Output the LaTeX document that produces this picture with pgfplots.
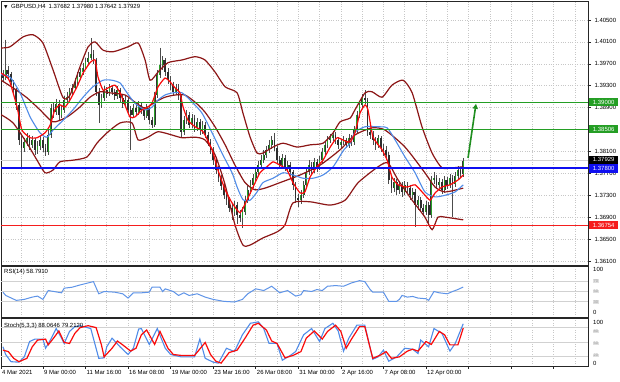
\documentclass[border=0pt]{standalone}
\usepackage{pgfplots}
\pgfplotsset{compat=1.18}
\usepackage{pgfplotstable}
\usepackage{fontspec}
\setmainfont{Liberation Sans}
\newfontfamily\djv{DejaVu Sans}
\usetikzlibrary{arrows.meta}

\definecolor{bbred}{RGB}{140,22,22}
\definecolor{maBlue}{RGB}{80,140,232}
\definecolor{maRed}{RGB}{250,10,10}
\definecolor{lvlGreen}{RGB}{36,158,36}
\definecolor{lvlBlue}{RGB}{15,15,240}
\definecolor{lvlRed}{RGB}{245,30,30}
\definecolor{bull}{RGB}{40,160,40}
\definecolor{bear}{RGB}{45,45,45}
\definecolor{rsiBlue}{RGB}{95,148,232}
\newcommand\sm{\fontsize{6}{7}\selectfont}
\newcommand\tn{\fontsize{4}{4.5}\selectfont}

\pgfplotstableread{
i O H L C
0 1.3950 1.3959 1.3937 1.3944
1 1.3944 1.4014 1.3940 1.3959
2 1.3959 1.3966 1.3944 1.3951
3 1.3951 1.3955 1.3931 1.3937
4 1.3937 1.3940 1.3915 1.3922
5 1.3922 1.3926 1.3886 1.3895
6 1.3895 1.3900 1.3822 1.3831
7 1.3831 1.3838 1.3778 1.3816
8 1.3816 1.3835 1.3809 1.3827
9 1.3827 1.3844 1.3820 1.3835
10 1.3835 1.3840 1.3813 1.3822
11 1.3822 1.3838 1.3816 1.3831
12 1.3831 1.3835 1.3804 1.3813
13 1.3813 1.3829 1.3805 1.3820
14 1.3820 1.3838 1.3813 1.3831
15 1.3831 1.3836 1.3809 1.3816
16 1.3816 1.3824 1.3802 1.3809
17 1.3809 1.3849 1.3804 1.3840
18 1.3840 1.3897 1.3835 1.3889
19 1.3889 1.3900 1.3871 1.3882
20 1.3882 1.3906 1.3877 1.3897
21 1.3897 1.3904 1.3867 1.3877
22 1.3877 1.3895 1.3871 1.3886
23 1.3886 1.3911 1.3880 1.3904
24 1.3904 1.3919 1.3897 1.3909
25 1.3909 1.3926 1.3904 1.3919
26 1.3919 1.3933 1.3911 1.3926
27 1.3926 1.3944 1.3922 1.3937
28 1.3937 1.3955 1.3931 1.3946
29 1.3946 1.3962 1.3940 1.3955
30 1.3955 1.3972 1.3950 1.3962
31 1.3962 1.3981 1.3959 1.3973
32 1.3973 1.3992 1.3968 1.3981
33 1.3981 1.4017 1.3977 1.3988
34 1.3988 1.3995 1.3970 1.3977
35 1.3977 1.3981 1.3911 1.3919
36 1.3919 1.3926 1.3862 1.3895
37 1.3895 1.3915 1.3889 1.3908
38 1.3908 1.3930 1.3902 1.3922
39 1.3922 1.3928 1.3908 1.3915
40 1.3915 1.3933 1.3911 1.3926
41 1.3926 1.3931 1.3913 1.3919
42 1.3919 1.3924 1.3904 1.3911
43 1.3911 1.3930 1.3906 1.3922
44 1.3922 1.3926 1.3900 1.3908
45 1.3908 1.3913 1.3889 1.3897
46 1.3897 1.3911 1.3891 1.3904
47 1.3904 1.3908 1.3880 1.3886
48 1.3886 1.3893 1.3813 1.3877
49 1.3877 1.3897 1.3871 1.3889
50 1.3889 1.3895 1.3875 1.3882
51 1.3882 1.3902 1.3877 1.3895
52 1.3895 1.3900 1.3878 1.3886
53 1.3886 1.3891 1.3867 1.3875
54 1.3875 1.3897 1.3871 1.3889
55 1.3889 1.3893 1.3860 1.3867
56 1.3867 1.3873 1.3853 1.3858
57 1.3858 1.3919 1.3855 1.3913
58 1.3913 1.3959 1.3908 1.3950
59 1.3950 1.3999 1.3944 1.3968
60 1.3968 1.3984 1.3959 1.3977
61 1.3977 1.3981 1.3948 1.3955
62 1.3955 1.3962 1.3933 1.3940
63 1.3940 1.3948 1.3922 1.3931
64 1.3931 1.3937 1.3911 1.3919
65 1.3919 1.3933 1.3913 1.3926
66 1.3926 1.3933 1.3904 1.3911
67 1.3911 1.3915 1.3836 1.3846
68 1.3846 1.3875 1.3840 1.3867
69 1.3867 1.3886 1.3860 1.3877
70 1.3877 1.3882 1.3853 1.3858
71 1.3858 1.3878 1.3853 1.3871
72 1.3871 1.3877 1.3846 1.3853
73 1.3853 1.3871 1.3847 1.3864
74 1.3864 1.3869 1.3840 1.3849
75 1.3849 1.3866 1.3842 1.3858
76 1.3858 1.3864 1.3835 1.3840
77 1.3840 1.3846 1.3820 1.3827
78 1.3827 1.3833 1.3805 1.3813
79 1.3813 1.3818 1.3785 1.3794
80 1.3794 1.3800 1.3769 1.3776
81 1.3776 1.3783 1.3754 1.3761
82 1.3761 1.3767 1.3740 1.3747
83 1.3747 1.3754 1.3723 1.3730
84 1.3730 1.3738 1.3712 1.3721
85 1.3721 1.3727 1.3699 1.3707
86 1.3707 1.3716 1.3685 1.3699
87 1.3699 1.3719 1.3692 1.3712
88 1.3712 1.3718 1.3677 1.3694
89 1.3694 1.3703 1.3681 1.3688
90 1.3688 1.3709 1.3670 1.3699
91 1.3699 1.3729 1.3694 1.3721
92 1.3721 1.3747 1.3716 1.3740
93 1.3740 1.3758 1.3732 1.3749
94 1.3749 1.3769 1.3743 1.3761
95 1.3761 1.3780 1.3756 1.3772
96 1.3772 1.3793 1.3767 1.3785
97 1.3785 1.3804 1.3780 1.3794
98 1.3794 1.3813 1.3789 1.3804
99 1.3804 1.3820 1.3798 1.3813
100 1.3813 1.3831 1.3807 1.3822
101 1.3822 1.3838 1.3814 1.3831
102 1.3831 1.3844 1.3811 1.3816
103 1.3816 1.3820 1.3789 1.3794
104 1.3794 1.3802 1.3778 1.3785
105 1.3785 1.3805 1.3780 1.3798
106 1.3798 1.3804 1.3774 1.3780
107 1.3780 1.3793 1.3772 1.3785
108 1.3785 1.3791 1.3765 1.3772
109 1.3772 1.3776 1.3740 1.3749
110 1.3749 1.3754 1.3716 1.3725
111 1.3725 1.3732 1.3709 1.3721
112 1.3721 1.3740 1.3714 1.3730
113 1.3730 1.3756 1.3725 1.3749
114 1.3749 1.3780 1.3743 1.3772
115 1.3772 1.3794 1.3767 1.3785
116 1.3785 1.3791 1.3769 1.3776
117 1.3776 1.3798 1.3771 1.3791
118 1.3791 1.3796 1.3772 1.3780
119 1.3780 1.3802 1.3776 1.3794
120 1.3794 1.3816 1.3789 1.3809
121 1.3809 1.3829 1.3804 1.3822
122 1.3822 1.3838 1.3816 1.3831
123 1.3831 1.3842 1.3825 1.3835
124 1.3835 1.3847 1.3829 1.3840
125 1.3840 1.3846 1.3824 1.3831
126 1.3831 1.3836 1.3814 1.3822
127 1.3822 1.3833 1.3816 1.3827
128 1.3827 1.3838 1.3822 1.3831
129 1.3831 1.3835 1.3816 1.3822
130 1.3822 1.3842 1.3816 1.3835
131 1.3835 1.3840 1.3820 1.3827
132 1.3827 1.3857 1.3822 1.3849
133 1.3849 1.3884 1.3844 1.3877
134 1.3877 1.3902 1.3871 1.3895
135 1.3895 1.3915 1.3889 1.3908
136 1.3908 1.3922 1.3897 1.3904
137 1.3904 1.3908 1.3838 1.3846
138 1.3846 1.3853 1.3833 1.3840
139 1.3840 1.3847 1.3822 1.3831
140 1.3831 1.3836 1.3813 1.3822
141 1.3822 1.3840 1.3816 1.3835
142 1.3835 1.3838 1.3809 1.3816
143 1.3816 1.3824 1.3802 1.3813
144 1.3813 1.3820 1.3794 1.3804
145 1.3804 1.3809 1.3751 1.3758
146 1.3758 1.3765 1.3734 1.3743
147 1.3743 1.3761 1.3736 1.3754
148 1.3754 1.3760 1.3730 1.3740
149 1.3740 1.3756 1.3732 1.3749
150 1.3749 1.3754 1.3727 1.3736
151 1.3736 1.3756 1.3730 1.3749
152 1.3749 1.3754 1.3734 1.3743
153 1.3743 1.3749 1.3721 1.3730
154 1.3730 1.3743 1.3723 1.3736
155 1.3736 1.3742 1.3672 1.3712
156 1.3712 1.3729 1.3703 1.3721
157 1.3721 1.3727 1.3699 1.3707
158 1.3707 1.3714 1.3692 1.3699
159 1.3699 1.3719 1.3694 1.3712
160 1.3712 1.3718 1.3679 1.3694
161 1.3694 1.3765 1.3688 1.3758
162 1.3758 1.3772 1.3751 1.3761
163 1.3761 1.3767 1.3742 1.3749
164 1.3749 1.3761 1.3743 1.3754
165 1.3754 1.3760 1.3732 1.3740
166 1.3740 1.3765 1.3734 1.3758
167 1.3758 1.3763 1.3742 1.3749
168 1.3749 1.3769 1.3743 1.3761
169 1.3761 1.3767 1.3690 1.3751
170 1.3751 1.3772 1.3745 1.3765
171 1.3765 1.3783 1.3760 1.3776
172 1.3776 1.3781 1.3763 1.3769
173 1.37682 1.37980 1.37642 1.37929
}\candles

\pgfplotstableread{
i p
-0.7 1.3953
1.5 1.3946
2.6 1.3937
5.3 1.3891
7.1 1.3849
10.2 1.3835
12.8 1.3835
15.8 1.3844
17.7 1.3858
19.5 1.3886
21.4 1.3895
23.3 1.3891
25.2 1.3904
27.8 1.3928
30.1 1.3953
32.7 1.3972
34.6 1.3977
35.7 1.3946
37.6 1.3922
39.5 1.3926
42.1 1.3931
44.0 1.3917
44.7 1.3909
47.7 1.3873
49.6 1.3873
52.3 1.3886
54.5 1.3891
56.0 1.3898
58.3 1.3928
60.9 1.3944
62.8 1.3937
64.7 1.3926
66.5 1.3917
67.7 1.3891
69.5 1.3867
72.2 1.3855
75.2 1.3846
78.6 1.3813
80.8 1.3776
83.5 1.3740
86.1 1.3716
89.1 1.3698
91.7 1.3721
94.0 1.3745
96.6 1.3771
99.2 1.3782
101.5 1.3791
104.1 1.3785
106.8 1.3776
109.0 1.3753
111.7 1.3734
113.5 1.3736
115.4 1.3763
118.0 1.3782
120.3 1.3794
123.0 1.3818
125.6 1.3835
128.6 1.3829
130.5 1.3827
132.3 1.3844
134.2 1.3880
136.1 1.3895
137.2 1.3886
139.1 1.3836
142.5 1.3813
144.4 1.3794
146.2 1.3763
148.5 1.3749
151.9 1.3745
154.9 1.3749
157.9 1.3734
160.5 1.3721
162.4 1.3734
165.0 1.3745
168.0 1.3749
171.1 1.3758
173.0 1.3767
}\maR

\pgfplotstableread{
i p
-0.7 1.3950
2.6 1.3946
6.4 1.3917
10.2 1.3873
13.9 1.3844
16.5 1.3836
18.8 1.3849
22.6 1.3867
26.3 1.3886
30.1 1.3909
33.8 1.3928
37.6 1.3940
41.0 1.3940
44.0 1.3935
45.9 1.3922
49.6 1.3898
53.4 1.3886
56.0 1.3891
58.3 1.3904
60.9 1.3913
63.9 1.3917
67.3 1.3917
71.1 1.3900
74.8 1.3880
78.6 1.3844
82.3 1.3807
86.1 1.3771
88.0 1.3745
90.2 1.3722
92.9 1.3721
95.5 1.3736
97.7 1.3753
101.5 1.3761
105.3 1.3771
109.0 1.3767
112.8 1.3761
116.5 1.3761
120.3 1.3767
124.1 1.3782
128.0 1.3812
130.5 1.3825
132.3 1.3845
136.1 1.3855
141.0 1.3855
144.4 1.3853
147.4 1.3831
151.1 1.3800
154.9 1.3771
158.6 1.3736
162.4 1.3727
166.2 1.3730
169.9 1.3736
173.0 1.3749
}\maB

\pgfplotstableread{
i p
-0.7 1.3999
2.6 1.4001
7.5 1.4019
11.3 1.4023
15.0 1.4008
18.8 1.3959
22.6 1.3908
25.2 1.3913
28.9 1.3964
32.0 1.4001
34.6 1.4010
37.6 1.3995
41.4 1.3992
47.0 1.4001
50.8 1.4008
53.4 1.3977
55.3 1.3940
58.3 1.3955
62.0 1.3972
67.3 1.3977
72.2 1.3983
75.9 1.3977
79.7 1.3955
83.5 1.3928
88.0 1.3917
90.2 1.3880
92.9 1.3836
95.5 1.3807
97.7 1.3807
101.5 1.3818
105.3 1.3825
110.5 1.3818
115.4 1.3822
120.3 1.3825
124.1 1.3844
126.7 1.3864
130.5 1.3871
132.3 1.3886
136.1 1.3917
138.7 1.3919
142.5 1.3909
146.2 1.3931
150.4 1.3940
153.8 1.3917
157.5 1.3855
161.3 1.3807
165.0 1.3780
168.8 1.3780
173.0 1.3782
}\bbU

\pgfplotstableread{
i p
-0.7 1.3940
3.8 1.3926
9.0 1.3908
13.9 1.3886
18.8 1.3864
24.1 1.3873
28.9 1.3891
32.7 1.3909
36.5 1.3919
40.2 1.3917
45.9 1.3913
49.6 1.3900
53.4 1.3889
57.1 1.3900
60.9 1.3909
64.7 1.3913
68.4 1.3913
72.2 1.3900
75.9 1.3882
79.7 1.3855
83.5 1.3822
87.2 1.3785
91.0 1.3753
94.7 1.3740
98.5 1.3743
104.1 1.3753
111.7 1.3767
119.2 1.3785
126.7 1.3813
132.3 1.3840
138.7 1.3853
143.6 1.3849
151.1 1.3818
158.6 1.3771
162.4 1.3745
166.2 1.3736
173.0 1.3743
}\bbM

\pgfplotstableread{
i p
-0.7 1.3877
3.8 1.3862
9.0 1.3825
12.8 1.3794
15.8 1.3771
18.8 1.3776
21.4 1.3791
26.3 1.3794
31.6 1.3800
35.3 1.3825
39.1 1.3844
44.0 1.3862
48.5 1.3862
50.8 1.3831
54.5 1.3836
58.3 1.3846
63.5 1.3840
67.3 1.3835
72.2 1.3836
75.9 1.3831
79.7 1.3804
83.5 1.3749
87.2 1.3676
90.2 1.3639
92.9 1.3639
97.7 1.3652
103.0 1.3663
106.0 1.3676
109.0 1.3716
115.4 1.3718
123.0 1.3712
128.6 1.3721
133.5 1.3753
141.0 1.3782
144.7 1.3789
148.5 1.3758
153.8 1.3721
158.6 1.3690
161.3 1.3667
163.5 1.3690
166.2 1.3690
173.0 1.3685
}\bbL

\pgfplotstableread{
i v
0 48.7
1 42.3
5 32.6
8 34.5
11 39.0
13 41.0
15 34.5
17 51.9
22 47.4
23 56.5
26 58.4
29 62.9
32 66.8
34 69.4
36 45.5
38 50.0
42 48.7
45 45.5
47 37.1
49 47.4
52 47.4
55 48.7
56 58.4
59 58.4
60 50.0
61 55.2
64 50.0
66 42.3
68 47.4
70 42.3
73 45.5
76 39.0
79 34.5
83 30.7
87 29.4
90 34.5
92 45.5
95 55.2
98 51.9
101 60.3
103 51.9
104 47.4
107 51.9
110 41.0
112 43.6
113 51.9
116 50.0
118 53.9
120 51.9
122 60.3
125 61.6
128 60.3
131 66.8
134 71.3
136 69.4
138 53.9
139 48.7
143 48.7
145 30.7
148 30.7
149 34.5
150 42.3
152 39.0
154 40.3
156 37.1
159 35.8
160 32.6
162 50.0
164 47.4
167 45.5
169 50.0
171 53.9
173 58.8
}\rsi

\pgfplotstableread{
i v
0 40
1 24
3 9
6 8
8 19
10 51
12 56
15 56
16 37
18 56
20 78
22 58
23 47
25 72
27 82
29 84
33 78
36 16
38 17
39 40
41 58
44 40
47 24
49 37
51 77
52 78
55 45
58 78
61 37
63 24
67 19
72 19
74 56
76 16
79 8
81 6
84 37
87 30
90 65
93 89
96 92
98 78
100 47
103 47
105 12
108 22
110 30
113 65
116 78
119 51
121 78
124 89
126 73
128 31
130 58
133 85
136 85
139 14
141 19
143 33
145 10
148 19
151 37
154 35
156 26
157 54
160 40
162 78
165 68
168 31
170 47
173 88
}\stM

\pgfplotstableread{
i v
0 33
2 30
4 16
6 9
9 16
11 40
13 54
16 56
17 44
19 58
21 73
23 49
25 47
27 68
29 80
32 84
35 80
37 44
38 19
41 37
43 52
45 44
48 31
50 37
52 65
54 75
57 45
59 72
62 37
64 24
67 22
72 22
76 49
78 24
80 10
82 6
85 28
88 33
91 58
94 85
96 89
99 75
101 52
103 47
106 17
109 22
112 30
114 58
117 73
120 56
122 72
125 85
127 72
129 37
131 56
134 82
136 82
139 16
142 23
144 30
146 16
149 19
152 31
154 35
156 31
159 51
161 45
164 72
166 65
168 44
171 44
173 79
}\stS

\pgfplotsset{
  panel/.style={
    scale only axis, width=587bp, xmin=-0.75, xmax=219.9,
    axis line style={black!85, line width=0.8bp},
    xtick={15,31,47,63,79,95,111,127,143,159,175,191,207},
    minor xtick={7,23,39,55,71,87,103,119,135,151,167,183,199,215},
    xmajorgrids, xminorgrids,
    major grid style={dotted, black!22, line width=0.5bp},
    minor grid style={dotted, black!22, line width=0.5bp},
    tick style={black!85, line width=0.5bp},
    major tick length=3bp, minor tick length=0pt, tick align=outside,
    ticklabel style={font=\sm, text=black},
    xtick pos=bottom, ytick pos=right, yticklabel pos=right,
    clip mode=individual,
  },
}
\tikzset{
  lvl/.style={fill=#1, text=white, anchor=west, inner sep=0pt, minimum width=29bp, minimum height=8.5bp, font=\sm, xshift=1bp},
  gbox/.style={fill=black!12, text=black!40, anchor=west, inner sep=0.5bp, font=\tn, xshift=5bp},
}

\begin{document}
\begin{tikzpicture}
\useasboundingbox (0,0) rectangle (620bp,382bp);
\fill[white] (0,0) rectangle (620bp,382bp);

% ---------------- main price panel ----------------
\begin{axis}[panel, at={(1bp,117bp)}, anchor=south west, height=264bp,
  ymin=1.36026, ymax=1.40847,
  ytick={1.361,1.365,1.369,1.373,1.377,1.381,1.385,1.389,1.393,1.397,1.401,1.405},
  yticklabels={1.36100,1.36500,1.36900,1.37300,1.37700,1.38100,,1.38900,1.39300,1.39700,1.40100,1.40500},
  ymajorgrids, xticklabels={}, xtick style={draw=none}]

\addplot[black!18, line width=0.6bp, forget plot] coordinates {(-0.75,1.37929)(219.9,1.37929)};

% wicks
\addplot[draw=none, mark=none, forget plot,
  error bars/.cd, y dir=minus, y explicit, error mark=none,
  error bar style={draw=black!70, solid, line width=0.5bp}]
  table[x=i, y=H, y error minus expr=\thisrow{H}-\thisrow{L}] {\candles};
% bull bodies
\addplot[draw=none, mark=none, forget plot,
  restrict expr to domain={\thisrow{C}-\thisrow{O}}{0:1},
  error bars/.cd, y dir=minus, y explicit, error mark=none,
  error bar style={draw=black!80, solid, line width=1.8bp}]
  table[x=i, y=C, y error minus expr=\thisrow{C}-\thisrow{O}] {\candles};
\addplot[draw=none, mark=none, forget plot,
  restrict expr to domain={\thisrow{C}-\thisrow{O}}{0:1},
  error bars/.cd, y dir=minus, y explicit, error mark=none,
  error bar style={draw=bull, solid, line width=1.0bp}]
  table[x=i, y=C, y error minus expr=\thisrow{C}-\thisrow{O}] {\candles};
% bear bodies
\addplot[draw=none, mark=none, forget plot,
  restrict expr to domain={\thisrow{O}-\thisrow{C}}{0:1},
  error bars/.cd, y dir=minus, y explicit, error mark=none,
  error bar style={draw=bear, solid, line width=1.7bp}]
  table[x=i, y=O, y error minus expr=\thisrow{O}-\thisrow{C}] {\candles};

% indicators
\addplot[bbred, line width=1.2bp, smooth, tension=0.4] table[x=i,y=p] {\bbU};
\addplot[bbred, line width=1.2bp, smooth, tension=0.4] table[x=i,y=p] {\bbM};
\addplot[bbred, line width=1.2bp, smooth, tension=0.4] table[x=i,y=p] {\bbL};
\addplot[maBlue, line width=1.1bp, smooth, tension=0.4] table[x=i,y=p] {\maB};
\addplot[maRed, line width=1.2bp, smooth, tension=0.3] table[x=i,y=p] {\maR};

% levels
\addplot[lvlGreen, line width=1.1bp] coordinates {(-0.75,1.39)(219.9,1.39)};
\addplot[lvlGreen, line width=1.1bp] coordinates {(-0.75,1.38506)(219.9,1.38506)};
\addplot[lvlBlue, line width=1.8bp] coordinates {(-0.75,1.378)(219.9,1.378)};
\addplot[lvlRed, line width=1.1bp] coordinates {(-0.75,1.36754)(219.9,1.36754)};

% arrow
\addplot[lvlGreen!90!black, line width=1.6bp, -{Triangle[length=5bp,width=5bp]}] coordinates {(174.8,1.3798)(177.8,1.3897)};

\node[lvl=lvlGreen] at (axis cs:219.9,1.39) {1.39000};
\node[lvl=lvlGreen] at (axis cs:219.9,1.38506) {1.38506};
\node[lvl=black] at (axis cs:219.9,1.37945) {1.37929};
\node[lvl=lvlBlue] at (axis cs:219.9,1.37790) {1.37800};
\node[lvl=lvlRed] at (axis cs:219.9,1.36754) {1.36754};

\node[anchor=north west, inner sep=0pt, font=\sm] at (rel axis cs:0,1) [xshift=3bp, yshift=-3.5bp]
  {{\djv\fontsize{4.5}{5}\selectfont ▼}\hspace{3.5bp}GBPUSD,H4\hspace{3bp}1.37682 1.37980 1.37642 1.37929};
\end{axis}

% ---------------- RSI panel ----------------
\begin{axis}[panel, at={(1bp,65bp)}, anchor=south west, height=51bp,
  ymin=0, ymax=100, ytick=\empty, xticklabels={}, xtick style={draw=none}]
\addplot[black!18, line width=0.7bp] coordinates {(-0.75,70)(219.9,70)};
\addplot[black!18, line width=0.7bp] coordinates {(-0.75,50)(219.9,50)};
\addplot[black!18, line width=0.7bp] coordinates {(-0.75,30)(219.9,30)};
\addplot[rsiBlue, line width=1bp] table[x=i,y=v] {\rsi};
\node[anchor=north west, inner sep=0pt, font=\sm] at (rel axis cs:0,1) [xshift=3bp, yshift=-2.5bp] {RSI(14) 58.7910};
\node[anchor=west, inner sep=0pt, font=\sm] at (rel axis cs:1,0.93) [xshift=5bp] {100};
\node[anchor=west, inner sep=0pt, font=\sm] at (rel axis cs:1,0.09) [xshift=5bp] {0};
\node[gbox] at (rel axis cs:1,0.70) {70};
\node[gbox] at (rel axis cs:1,0.50) {50};
\node[gbox] at (rel axis cs:1,0.30) {30};
\end{axis}

% ---------------- Stochastic panel ----------------
\begin{axis}[panel, at={(1bp,16bp)}, anchor=south west, height=48bp,
  ymin=0, ymax=100, ytick=\empty,
  xticklabels={9 Mar 00:00,11 Mar 16:00,16 Mar 08:00,19 Mar 00:00,23 Mar 16:00,26 Mar 08:00,31 Mar 00:00,2 Apr 16:00,7 Apr 08:00,12 Apr 00:00,,,},
  xticklabel style={anchor=north west, inner sep=1bp},
  extra x ticks={-0.75}, extra x tick labels={4 Mar 2021},
  extra x tick style={grid=none, xticklabel style={anchor=north west}}]
\addplot[black!18, line width=0.7bp] coordinates {(-0.75,80)(219.9,80)};
\addplot[black!18, line width=0.7bp] coordinates {(-0.75,50)(219.9,50)};
\addplot[black!18, line width=0.7bp] coordinates {(-0.75,20)(219.9,20)};
\addplot[maBlue, line width=1.1bp] table[x=i,y=v] {\stM};
\addplot[maRed, line width=1.2bp] table[x=i,y=v] {\stS};
\node[anchor=north west, inner sep=0pt, font=\sm] at (rel axis cs:0,1) [xshift=3bp, yshift=-5bp] {Stoch(5,3,3) 88.0646 79.2120};
\node[anchor=west, inner sep=0pt, font=\sm] at (rel axis cs:1,0.90) [xshift=5bp] {100};
\node[anchor=west, inner sep=0pt, font=\sm] at (rel axis cs:1,0.06) [xshift=5bp] {0};
\node[gbox] at (rel axis cs:1,0.72) {80};
\node[gbox] at (rel axis cs:1,0.47) {50};
\node[gbox] at (rel axis cs:1,0.22) {20};
\end{axis}
\end{tikzpicture}
\end{document}
